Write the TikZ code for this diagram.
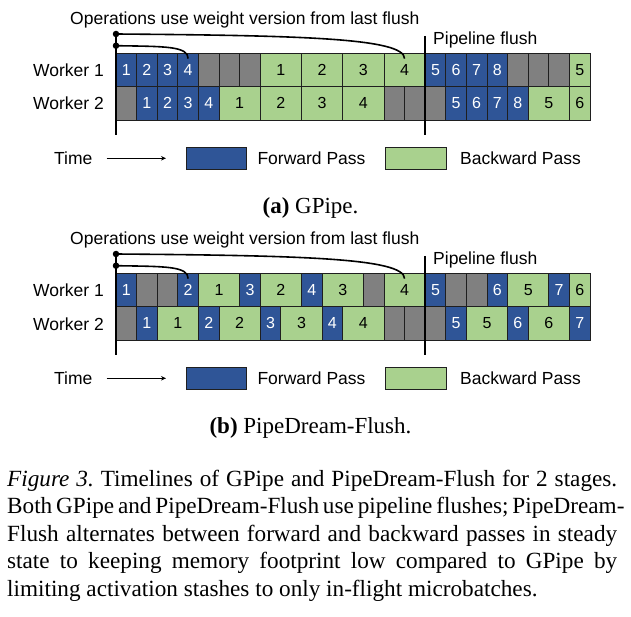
\documentclass[tikz,border=0pt]{standalone}
\usepackage{fontspec}
\setmainfont{Liberation Serif}
\setsansfont{Liberation Sans}
\usetikzlibrary{arrows.meta,calc}
\frenchspacing
\definecolor{fwdblue}{HTML}{2F5597}
\definecolor{bwdgreen}{HTML}{A9D18E}
\definecolor{idlegray}{HTML}{808080}
\definecolor{edgecol}{HTML}{1F1F1F}
\tikzset{
  cellbase/.style={draw=edgecol, line width=0.8pt, inner sep=0pt, minimum height=33.25pt,
    font=\sffamily\fontsize{16}{16}\selectfont},
  Fcell/.style={cellbase, fill=fwdblue, text=white},
  Bcell/.style={cellbase, fill=bwdgreen, text=black},
  Gcell/.style={cellbase, fill=idlegray},
  lbl/.style={font=\sffamily\fontsize{17.5}{20}\selectfont, inner sep=0pt, anchor=base west},
  heavy/.style={line width=1.8pt, draw=black},
  wline/.style={line width=1.6pt, draw=black},
  dotnode/.style={circle, fill=black, inner sep=0pt, minimum size=6.5pt},
  legbox/.style={draw=edgecol, line width=0.8pt, inner sep=0pt, minimum height=21.7pt},
  subcap/.style={font=\fontsize{23}{27}\selectfont, inner sep=0pt, anchor=base},
  capline/.style={font=\fontsize{23.2}{27.6}\selectfont\frenchspacing, inner sep=0pt, anchor=base west},
}
\newcommand{\tlrow}[3]{%
  \foreach \t/\s/\l/\n in {#3} {%
    \pgfmathsetmacro{\cx}{116+(\s+\l/2)*20.61}%
    \pgfmathsetmacro{\cw}{\l*20.61}%
    \node[\t cell, minimum width=\cw pt] (#1-\s) at (\cx, #2+16.625) {\n};
  }%
}
\newcommand{\panelframe}[2]{% prefix, dy
  \coordinate (#1-top) at (116, 34+#2);
  \coordinate (#1-bot) at (116, 135+#2);
  \coordinate (#1-ftop) at (425.2, 36+#2);
  \coordinate (#1-fbot) at (425.2, 135+#2);
  \draw[heavy] (#1-top) -- (#1-bot);
  \draw[heavy] (#1-ftop) -- (#1-fbot);
  \node[dotnode] (#1-d1) at (#1-top) {};
  \node[dotnode] (#1-d2) at (116, 45.7+#2) {};
  \draw[wline] (#1-d1.center) .. controls (300, 35.5+#2) and (404.5, 38+#2) .. ($(#1r1-13.north)+(0,5.5)$);
  \draw[wline] (#1-d2.center) .. controls (165, 46.5+#2) and (188.1, 46+#2) .. ($(#1r1-3.north)+(0,5.5)$);
  \node[lbl] (#1-ops) at (70, 25+#2) {Operations use weight version from last flush};
  \node[lbl] (#1-flush) at (433, 44.3+#2) {Pipeline flush};
  \node[lbl] (#1-w1) at (33, 76.7+#2) {Worker 1};
  \node[lbl] (#1-w2) at (33, 110+#2) {Worker 2};
  \node[lbl] (#1-time) at (54, 164.3+#2) {Time};
  \coordinate (#1-as) at (106.7, 158.3+#2);
  \coordinate (#1-ae) at (166, 158.3+#2);
  \draw[line width=0.8pt, -{Stealth[length=5pt,width=4.5pt]}] (#1-as) -- (#1-ae);
  \node[legbox, fill=fwdblue, minimum width=59.3pt] (#1-fbox) at (216.35, 158.15+#2) {};
  \node[lbl] (#1-ftxt) at (257.3, 164.3+#2) {Forward Pass};
  \node[legbox, fill=bwdgreen, minimum width=61pt] (#1-bbox) at (415.5, 158.15+#2) {};
  \node[lbl] (#1-btxt) at (460, 164.3+#2) {Backward Pass};
}
\begin{document}
\begin{tikzpicture}[x=1pt, y=-1pt]
\path[use as bounding box, fill=white] (0,0) rectangle (631,617);
% ---------- (a) GPipe ----------
\tlrow{gr1}{53.5}{F/0/1/1, F/1/1/2, F/2/1/3, F/3/1/4, G/4/1/{}, G/5/1/{}, G/6/1/{}, B/7/2/1, B/9/2/2, B/11/2/3, B/13/2/4, F/15/1/5, F/16/1/6, F/17/1/7, F/18/1/8, G/19/1/{}, G/20/1/{}, G/21/1/{}, B/22/1/5}
\tlrow{gr2}{86.75}{G/0/1/{}, F/1/1/1, F/2/1/2, F/3/1/3, F/4/1/4, B/5/2/1, B/7/2/2, B/9/2/3, B/11/2/4, G/13/1/{}, G/14/1/{}, G/15/1/{}, F/16/1/5, F/17/1/6, F/18/1/7, F/19/1/8, B/20/2/5, B/22/1/6}
\panelframe{g}{0}
\node[subcap] (capa) at (310.5, 213.3) {\textbf{(a)} GPipe.};
% ---------- (b) PipeDream-Flush ----------
\tlrow{pr1}{273.5}{F/0/1/1, G/1/1/{}, G/2/1/{}, F/3/1/2, B/4/2/1, F/6/1/3, B/7/2/2, F/9/1/4, B/10/2/3, G/12/1/{}, B/13/2/4, F/15/1/5, G/16/1/{}, G/17/1/{}, F/18/1/6, B/19/2/5, F/21/1/7, B/22/1/6}
\tlrow{pr2}{306.75}{G/0/1/{}, F/1/1/1, B/2/2/1, F/4/1/2, B/5/2/2, F/7/1/3, B/8/2/3, F/10/1/4, B/11/2/4, G/13/1/{}, G/14/1/{}, G/15/1/{}, F/16/1/5, B/17/2/5, F/19/1/6, B/20/2/6, F/22/1/7}
\panelframe{p}{220}
\node[subcap] (capb) at (310.5, 433.3) {\textbf{(b)} PipeDream-Flush.};
% ---------- caption ----------
\node[capline] (c1) at (7, 486) {\makebox[610pt][s]{\textit{Figure 3.} Timelines of GPipe and PipeDream-Flush for 2 stages.}};
\node[capline] (c2) at (7, 513.6) {\makebox[610pt][s]{Both GPipe and PipeDream-Flush use pipeline flushes; PipeDream-}};
\node[capline] (c3) at (7, 541.2) {\makebox[610pt][s]{Flush alternates between forward and backward passes in steady}};
\node[capline] (c4) at (7, 568.8) {\makebox[610pt][s]{state to keeping memory footprint low compared to GPipe by}};
\node[capline] (c5) at (7, 596.4) {limiting activation stashes to only in-flight microbatches.};
\end{tikzpicture}
\end{document}
